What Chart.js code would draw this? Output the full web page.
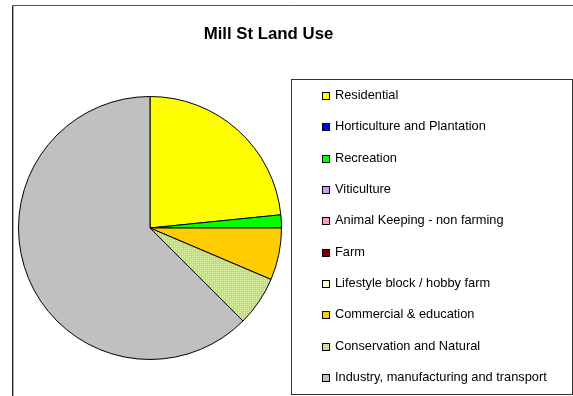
<!DOCTYPE html>
<html>
<head>
<meta charset="utf-8">
<title>Mill St Land Use</title>
<script src="https://cdn.jsdelivr.net/npm/chart.js@4"></script>
<style>
  html, body { margin: 0; padding: 0; background: #ffffff; }
  #wrap { position: relative; width: 573px; height: 396px; }
</style>
</head>
<body>
<div id="wrap"><canvas id="chart" width="573" height="396"></canvas></div>
<script>
// Land use categories and their share of Mill St (percent of area)
const chartTitle = 'Mill St Land Use';
const categories = [
  'Residential',
  'Horticulture and Plantation',
  'Recreation',
  'Viticulture',
  'Animal Keeping - non farming',
  'Farm',
  'Lifestyle block / hobby farm',
  'Commercial & education',
  'Conservation and Natural',
  'Industry, manufacturing and transport'
];
const shares = [23.4, 0, 1.6, 0, 0, 0, 0, 6.4, 6.1, 62.5];

// Small dotted fill used for the conservation slice, written pixel by pixel
function dottedPattern(base, dot) {
  const c = document.createElement('canvas');
  c.width = 2; c.height = 2;
  const g = c.getContext('2d');
  const img = g.createImageData(2, 2);
  for (let p = 0; p < 4; p++) {
    const col = p === 0 ? dot : base;
    img.data[p * 4] = col[0];
    img.data[p * 4 + 1] = col[1];
    img.data[p * 4 + 2] = col[2];
    img.data[p * 4 + 3] = 255;
  }
  g.putImageData(img, 0, 0);
  return document.getElementById('chart').getContext('2d').createPattern(c, 'repeat');
}

const sliceColors = [
  '#FFFF00', '#0000FF', '#00FF00', '#CC99FF', '#FF99CC',
  '#800000', '#FFFFCC', '#FFCC00',
  dottedPattern([186, 228, 100], [220, 243, 165]),
  '#C0C0C0'
];

// Frame, title and boxed legend drawn around the pie
const decorations = {
  id: 'decorations',
  beforeDraw(chart) {
    const ctx = chart.ctx;
    ctx.save();
    ctx.fillStyle = '#ffffff';
    ctx.fillRect(0, 0, chart.width, chart.height);
    ctx.strokeStyle = '#555555';
    ctx.lineWidth = 1;
    ctx.beginPath();
    ctx.moveTo(13, chart.height + 5);
    ctx.lineTo(13, 5.5);
    ctx.lineTo(chart.width + 5, 5.5);
    ctx.stroke();
    ctx.strokeStyle = '#222222';
    ctx.beginPath();
    ctx.moveTo(12.5, chart.height + 5);
    ctx.lineTo(12.5, 5.5);
    ctx.stroke();
    ctx.restore();
  },
  afterDraw(chart) {
    const ctx = chart.ctx;
    ctx.save();
    // title
    ctx.fillStyle = '#000000';
    ctx.font = 'bold 16.8px "Liberation Sans", Arial, sans-serif';
    ctx.textAlign = 'center';
    ctx.textBaseline = 'alphabetic';
    ctx.fillText(chartTitle, 268.5, 39);

    // legend box
    ctx.strokeStyle = '#333333';
    ctx.lineWidth = 1;
    ctx.strokeRect(291.5, 79.5, 281, 315);

    const labels = chart.data.labels;
    const fills = chart.data.datasets[0].backgroundColor;
    ctx.font = '12.8px "Liberation Sans", Arial, sans-serif';
    ctx.textAlign = 'left';
    ctx.textBaseline = 'middle';
    labels.forEach((lab, i) => {
      const y = 95.5 + i * 31.35;
      const sy = Math.round(y - 3.5) + 0.5;
      ctx.fillStyle = fills[i];
      ctx.fillRect(322.5, sy, 7, 7);
      ctx.strokeStyle = '#000000';
      ctx.strokeRect(322.5, sy, 7, 7);
      ctx.fillStyle = '#000000';
      ctx.fillText(lab, 335, y);
    });
    ctx.restore();
  }
};

new Chart(document.getElementById('chart'), {
  type: 'pie',
  data: {
    labels: categories,
    datasets: [{
      data: shares,
      backgroundColor: sliceColors,
      borderColor: '#000000',
      borderWidth: 1,
      hoverBorderWidth: 1,
      hoverOffset: 0,
      offset: 0
    }]
  },
  options: {
    responsive: false,
    animation: false,
    events: [],
    layout: { padding: { left: 18, right: 291, top: 96, bottom: 36 } },
    plugins: {
      legend: { display: false },
      title: { display: false },
      tooltip: { enabled: false }
    }
  },
  plugins: [decorations]
});
</script>
</body>
</html>
